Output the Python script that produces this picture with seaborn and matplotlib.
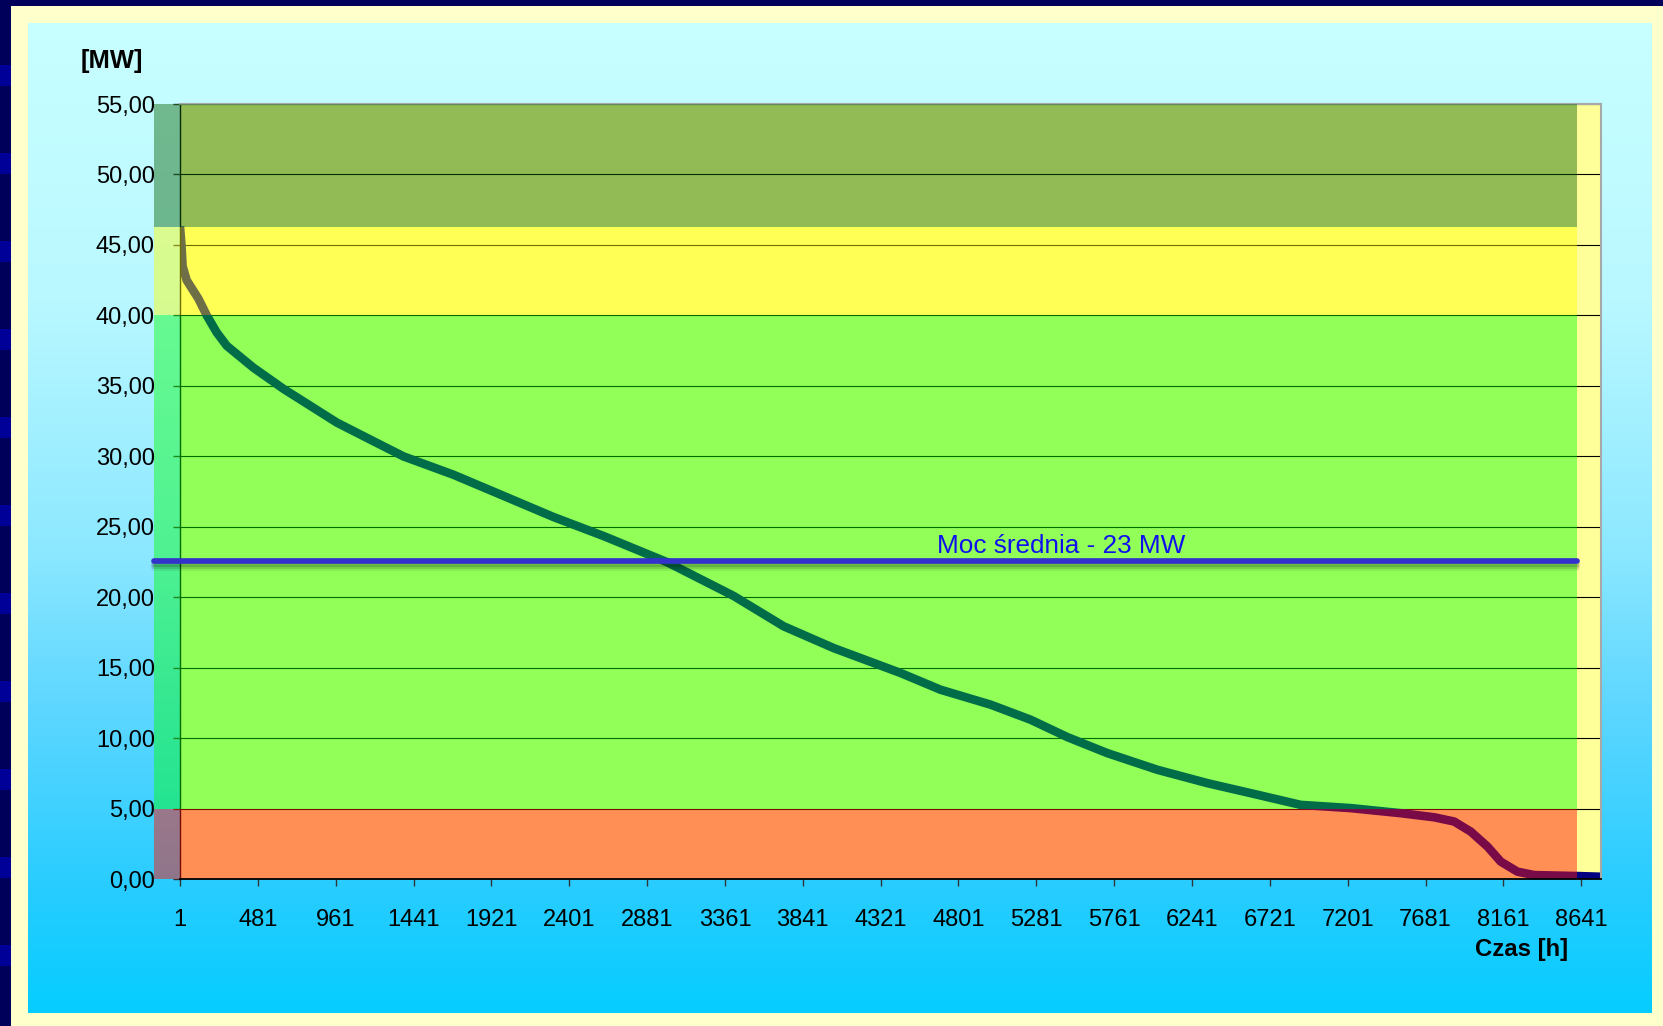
import numpy as np
import matplotlib
matplotlib.use("Agg")
import matplotlib.pyplot as plt
import matplotlib.patheffects as pe
import seaborn as sns

# Sorted hourly load (load duration curve), MW
hours = [1, 10, 17, 42, 114, 166, 227, 289, 453, 638, 803, 968, 1173, 1379,
         1687, 1996, 2304, 2613, 3004, 3415, 3723, 4032, 4443, 4690, 4999,
         5246, 5472, 5719, 6027, 6336, 6603, 6911, 7220, 7528, 7734, 7857,
         7960, 8063, 8145, 8248, 8351, 8618, 8760]
power_mw = [46.3, 45.0, 43.5, 42.5, 41.2, 40.0, 38.8, 37.85, 36.3, 34.8, 33.6,
            32.4, 31.2, 30.0, 28.7, 27.2, 25.7, 24.35, 22.5, 20.1, 17.95, 16.4,
            14.64, 13.45, 12.39, 11.32, 10.09, 8.95, 7.77, 6.82, 6.11, 5.28,
            5.05, 4.69, 4.4, 4.1, 3.38, 2.32, 1.25, 0.54, 0.3, 0.23, 0.18]
mean_power = 22.55

x_tick_hours = list(range(1, 8642, 480))
y_ticks = list(range(0, 56, 5))

# Load zones: lower, upper bound [MW]
zone_bounds = [(0, 5), (5, 40), (40, 46.3), (46.3, 55)]
zone_colors = [(1.0, 0.086, 0.043), (0.0, 1.0, 0.0), (1.0, 1.0, 0.0), (0.051, 0.4, 0.016)]
zone_alphas = [0.48, 0.43, 0.44, 0.45]

W, H = 1663, 1026

sns.set_style("white")
plt.rcParams["font.family"] = ["Liberation Sans", "DejaVu Sans"]
plt.rcParams["text.color"] = "black"

fig = plt.figure(figsize=(W / 100, H / 100), dpi=100)

# Slide-style backdrop: navy edge, cream frame, cyan gradient panel
bg = np.zeros((H, W, 3))
bg[:, :] = np.array([255, 255, 204]) / 255
bg[:6, :] = np.array([0, 0, 90]) / 255
bg[:, :11] = np.array([0, 0, 90]) / 255
for s in range(65, H, 88):
    bg[s:s + 21, :11] = np.array([0, 0, 153]) / 255
yy = np.arange(23, 1013)
stops_y = [23, 300, 550, 700, 880, 1013]
stops_r = [200, 185, 140, 95, 42, 5]
stops_g = [255, 248, 232, 215, 205, 204]
r = np.interp(yy, stops_y, stops_r) / 255
g = np.interp(yy, stops_y, stops_g) / 255
bg[23:1013, 28:1652, 0] = r[:, None]
bg[23:1013, 28:1652, 1] = g[:, None]
bg[23:1013, 28:1652, 2] = 1.0
bg_ax = fig.add_axes([0, 0, 1, 1], zorder=-10)
bg_ax.imshow(bg, aspect="auto", interpolation="nearest")
bg_ax.axis("off")

# Chart panel
left, right, top, bottom = 180, 1600.7, 104, 879.3
ax = fig.add_axes([left / W, (H - bottom) / H, (right - left) / W, (bottom - top) / H])
ax.set_facecolor("#FFFF99")

sns.lineplot(x=hours, y=power_mw, ax=ax, color="#000080", linewidth=6.2,
             zorder=2, solid_joinstyle="round", solid_capstyle="butt")

ax.set_xlim(1, 8761)
ax.set_ylim(0, 55)
ax.set_axisbelow(True)
ax.yaxis.grid(True, color="black", lw=0.8)
ax.xaxis.grid(False)

# Semi-transparent zone overlays
band_x0 = -26 / (right - left)
band_x1 = (1576.7 - left) / (right - left)
for (lo, hi), c, a in zip(zone_bounds, zone_colors, zone_alphas):
    ax.axhspan(lo, hi, xmin=band_x0, xmax=band_x1, color=c, alpha=a, lw=0,
               clip_on=False, zorder=3)

# Mean power line with a soft shadow
ax.axhline(mean_power, xmin=band_x0, xmax=band_x1, color="#3333CC", lw=4.1,
           clip_on=False, zorder=5,
           path_effects=[pe.SimpleLineShadow(offset=(0, -5), shadow_color="black", alpha=0.08),
                         pe.SimpleLineShadow(offset=(0, -3.5), shadow_color="black", alpha=0.12),
                         pe.SimpleLineShadow(offset=(0, -2), shadow_color="black", alpha=0.15),
                         pe.Normal()])
ax.text(4670, 23.17, f"Moc średnia - {mean_power:.0f} MW", color="#1010EE",
        fontsize=18.8, va="baseline", ha="left", zorder=6)

ax.set_xticks(x_tick_hours)
ax.set_xticklabels([str(h) for h in x_tick_hours])
ax.set_yticks(y_ticks)
ax.set_yticklabels([f"{v:.2f}".replace(".", ",") for v in y_ticks])
ax.tick_params(axis="both", direction="out", length=5.3, width=1, color="#333333",
               labelsize=17, labelcolor="black", bottom=True, left=True)
ax.tick_params(axis="y", pad=12.7)
ax.tick_params(axis="x", pad=16)
ax.set_xlabel("")
ax.set_ylabel("")

for side in ("left", "bottom"):
    ax.spines[side].set_color("black")
ax.spines["left"].set_linewidth(1.0)
ax.spines["bottom"].set_linewidth(1.3)
ax.spines["bottom"].set_zorder(4)
for side in ("top", "right"):
    ax.spines[side].set_color("#A8A8A8")
    ax.spines[side].set_linewidth(1.5)

fig.text(81 / W, 1 - 68.3 / H, "[MW]", fontsize=18.4, fontweight="bold",
         ha="left", va="baseline", color="black")
fig.text(1568 / W, 1 - 955.7 / H, "Czas [h]", fontsize=17.2, fontweight="bold",
         ha="right", va="baseline", color="black")

fig.savefig("out.png", dpi=100)
